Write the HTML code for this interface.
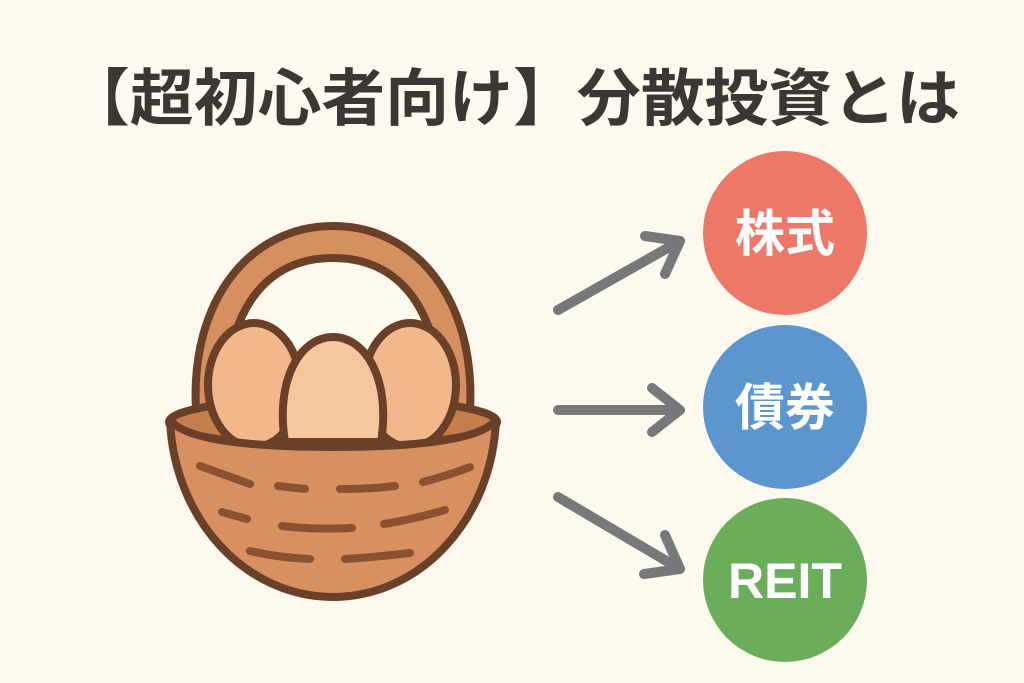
<!DOCTYPE html>
<html><head><meta charset="utf-8"><style>
html,body{margin:0;padding:0;background:#fdf9ee;}
svg{display:block}
</style></head><body>
<svg width="1024" height="683" viewBox="0 0 1024 683" xmlns="http://www.w3.org/2000/svg">
<rect width="1024" height="683" fill="#fdf9ee"/>
<text x="66" y="120" textLength="894" lengthAdjust="spacingAndGlyphs" font-family="Liberation Sans, Noto Sans CJK JP, sans-serif" font-weight="bold" font-size="62" fill="#3a3734">【超初心者向け】分散投資とは</text>
<g stroke="#6a4029" stroke-width="8" stroke-linejoin="round" stroke-linecap="round">
<path d="M196,410 C190,300 250,226 333,226 C416,226 476,300 470,410 L440,410 C442,310 400,258 333,258 C266,258 224,310 226,410 Z" fill="#d68f5e"/>
<ellipse cx="333" cy="422" rx="164" ry="24" fill="#c67d4c"/>
<ellipse cx="254" cy="385" rx="46" ry="62" fill="#f2b88c"/>
<ellipse cx="410" cy="385" rx="46" ry="62" fill="#f2b88c"/>
<path d="M285,442 C275,380 300,337 333,337 C366,337 391,380 381,442 Z" fill="#f6c79e"/>
<path d="M170,420 C185,440 250,447 333,447 C416,447 481,440 496,420 C492,520 420,597 333,597 C246,597 174,520 170,420 Z" fill="#d99060"/>
</g>
<g stroke="#8a5231" stroke-width="8" stroke-linecap="round" fill="none">
<path d="M200,466 Q225,475 250,484"/>
<path d="M278,486 L305,489"/>
<path d="M340,489 Q370,489 395,486"/>
<path d="M423,482 Q450,475 470,467"/>
<path d="M222,512 L247,519"/>
<path d="M282,526 Q315,530 352,528"/>
<path d="M384,524 Q410,520 445,510"/>
<path d="M250,551 Q280,558 310,559"/>
<path d="M345,559 Q375,557 410,553"/>
</g>
<g stroke="#77787a" stroke-width="10" stroke-linecap="round" stroke-linejoin="round" fill="none">
<path d="M558,310 L680,241"/><path d="M645,236 L680,241 L665,274"/>
<path d="M558,410 L680,410"/><path d="M652,388 L680,410 L652,432"/>
<path d="M558,497 L680,569"/><path d="M644,574 L680,569 L665,535"/>
</g>
<circle cx="785" cy="233" r="82" fill="#ee7868"/>
<circle cx="785" cy="407" r="82" fill="#5b96cf"/>
<circle cx="785" cy="580" r="82" fill="#6aae5c"/>
<g font-family="Liberation Sans, Noto Sans CJK JP, sans-serif" font-weight="bold" fill="#fff" text-anchor="middle">
<text x="785" y="251" font-size="50">株式</text>
<text x="785" y="425" font-size="50">債券</text>
<text x="785" y="598" font-size="50">REIT</text>
</g>
</svg>
</body></html>
